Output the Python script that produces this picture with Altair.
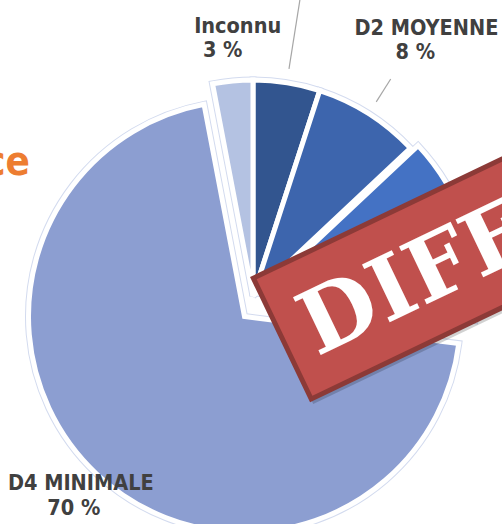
import math
import altair as alt
import pandas as pd

# ---------------- data ----------------
categories = ["D1 MAXIMALE", "D2 MOYENNE", "D3 LIMITÉE", "D4 MINIMALE", "Inconnu"]
values = [5, 8, 14, 70, 3]
pct_labels = ["5 %", "8 %", "14 %", "70 %", "3 %"]
title_fragment = ["ce"]
stamp_text = ["DIFFUSION RESTREINTE"]

# ---------------- style ----------------
colors = ["#32558F", "#3D65AD", "#4472C4", "#8C9ED1", "#B4C2E2"]
W, H = 502, 524
CX, CY, R = 253, 296, 216
explode = {"D3 LIMITÉE": (7.6, -2.5), "D4 MINIMALE": (-8.5, 20.5)}
# labels visible in the frame: radius, x nudge of the % line, extra x nudge of the name line
label_style = {
    "D2 MOYENNE": (290, 7, 11),
    "D4 MINIMALE": (261, 8, 7),
    "Inconnu": (248, -7, 15),
}
leader_style = {"D1 MAXIMALE": (230, 312), "D2 MOYENNE": (230, 257)}
LABEL_FONT = "DejaVu Sans Condensed"

total = sum(values)
rows, labels, leaders = [], [], []
acc = 0.0
for cat, v, pct in zip(categories, values, pct_labels):
    start, end = acc, acc + v
    acc = end
    mid = (start + end) / 2 / total * 2 * math.pi
    dx, dy = explode.get(cat, (0, 0))
    cx, cy = CX + dx, CY + dy
    rows.append({"cat": cat, "value": v, "start": start, "end": end, "cx": cx, "cy": cy})
    if cat in label_style:
        lr, pdx, ndx = label_style[cat]
        ax = cx + lr * math.sin(mid) + pdx
        ay = cy - lr * math.cos(mid)
        labels.append({"cat": cat, "name": cat, "pct": pct,
                       "nx": ax + ndx, "ny": ay - 16.5, "px": ax, "py": ay + 8})
    if cat in leader_style:
        r0, r1 = leader_style[cat]
        leaders.append({"x": cx + r0 * math.sin(mid), "y": cy - r0 * math.cos(mid),
                        "x2": cx + r1 * math.sin(mid), "y2": cy - r1 * math.cos(mid)})

pie_df = pd.DataFrame(rows)
lab_df = pd.DataFrame(labels)
lead_df = pd.DataFrame(leaders)

base = alt.Chart(pie_df).encode(
    theta=alt.Theta("start:Q", stack=False,
                    scale=alt.Scale(domain=[0, total], range=[0, 2 * math.pi])),
    theta2="end:Q",
    x=alt.X("cx:Q", scale=None, axis=None),
    y=alt.Y("cy:Q", scale=None, axis=None),
)
outline = base.mark_arc(outerRadius=R, fill="white", stroke="#D3DBEF", strokeWidth=7)
slices = base.mark_arc(outerRadius=R, stroke="white", strokeWidth=5).encode(
    color=alt.Color("cat:N", scale=alt.Scale(domain=categories, range=colors), legend=None)
)

leader_lines = alt.Chart(lead_df).mark_rule(color="#A6A6A6", strokeWidth=1.2).encode(
    x=alt.X("x:Q", scale=None, axis=None), y=alt.Y("y:Q", scale=None, axis=None),
    x2="x2:Q", y2="y2:Q",
)

name_text = alt.Chart(lab_df).mark_text(
    font=LABEL_FONT, fontWeight="bold", fontSize=21.5, color="#404040",
    align="center", baseline="alphabetic",
).encode(x=alt.X("nx:Q", scale=None, axis=None), y=alt.Y("ny:Q", scale=None, axis=None), text="name:N")

pct_text = alt.Chart(lab_df).mark_text(
    font=LABEL_FONT, fontWeight="bold", fontSize=21.5, color="#404040",
    align="center", baseline="alphabetic",
).encode(x=alt.X("px:Q", scale=None, axis=None), y=alt.Y("py:Q", scale=None, axis=None), text="pct:N")

title = alt.Chart(pd.DataFrame({"t": title_fragment})).mark_text(
    font="Liberation Sans Narrow, DejaVu Sans Condensed", fontWeight="bold", fontSize=40,
    color="#ED7D31", align="right", baseline="alphabetic",
).encode(x=alt.value(30), y=alt.value(175), text="t:N")

# ---------------- stamp ----------------
ANG = -25.6
ux, uy = math.cos(math.radians(ANG)), math.sin(math.radians(ANG))
vx, vy = -uy, ux
OX, OY = 250, 277          # top-left corner of the stamp
SW, SH, BW = 560, 139, 5   # stamp length, height, border width
ca, cd = BW / 2 + (SW - BW) / 2, SH / 2
scx, scy = OX + ca * ux + cd * vx, OY + ca * uy + cd * vy
hr = (SH - BW) / (SW - BW)
shape = f"M-1,-{hr:.4f}L1,-{hr:.4f}L1,{hr:.4f}L-1,{hr:.4f}Z"
size = (SW - BW) ** 2
stamp_df = pd.DataFrame({"t": stamp_text})

shadow = alt.Chart(stamp_df).mark_point(
    shape=shape, size=size, angle=360 + ANG, filled=True, fill="#000000",
    fillOpacity=0.18, strokeWidth=0, opacity=1,
).encode(x=alt.value(scx + 2), y=alt.value(scy + 5))

stamp = alt.Chart(stamp_df).mark_point(
    shape=shape, size=size, angle=360 + ANG, filled=True, fill="#C0504D",
    stroke="#8C3A37", strokeWidth=BW, opacity=1,
).encode(x=alt.value(scx), y=alt.value(scy))

ta, td = 26, 101
stamp_label = alt.Chart(stamp_df).mark_text(
    font="DejaVu Serif", fontWeight="bold", fontSize=88, color="white",
    align="left", baseline="alphabetic", angle=360 + ANG,
).encode(x=alt.value(OX + ta * ux + td * vx), y=alt.value(OY + ta * uy + td * vy), text="t:N")

chart = alt.layer(
    outline, slices, leader_lines, name_text, pct_text, title, shadow, stamp, stamp_label
).properties(
    width=W, height=H, padding=0, autosize=alt.AutoSizeParams(type="none"),
).configure_view(stroke=None)

chart.save("out.html", embed_options={"renderer": "svg", "actions": False})
